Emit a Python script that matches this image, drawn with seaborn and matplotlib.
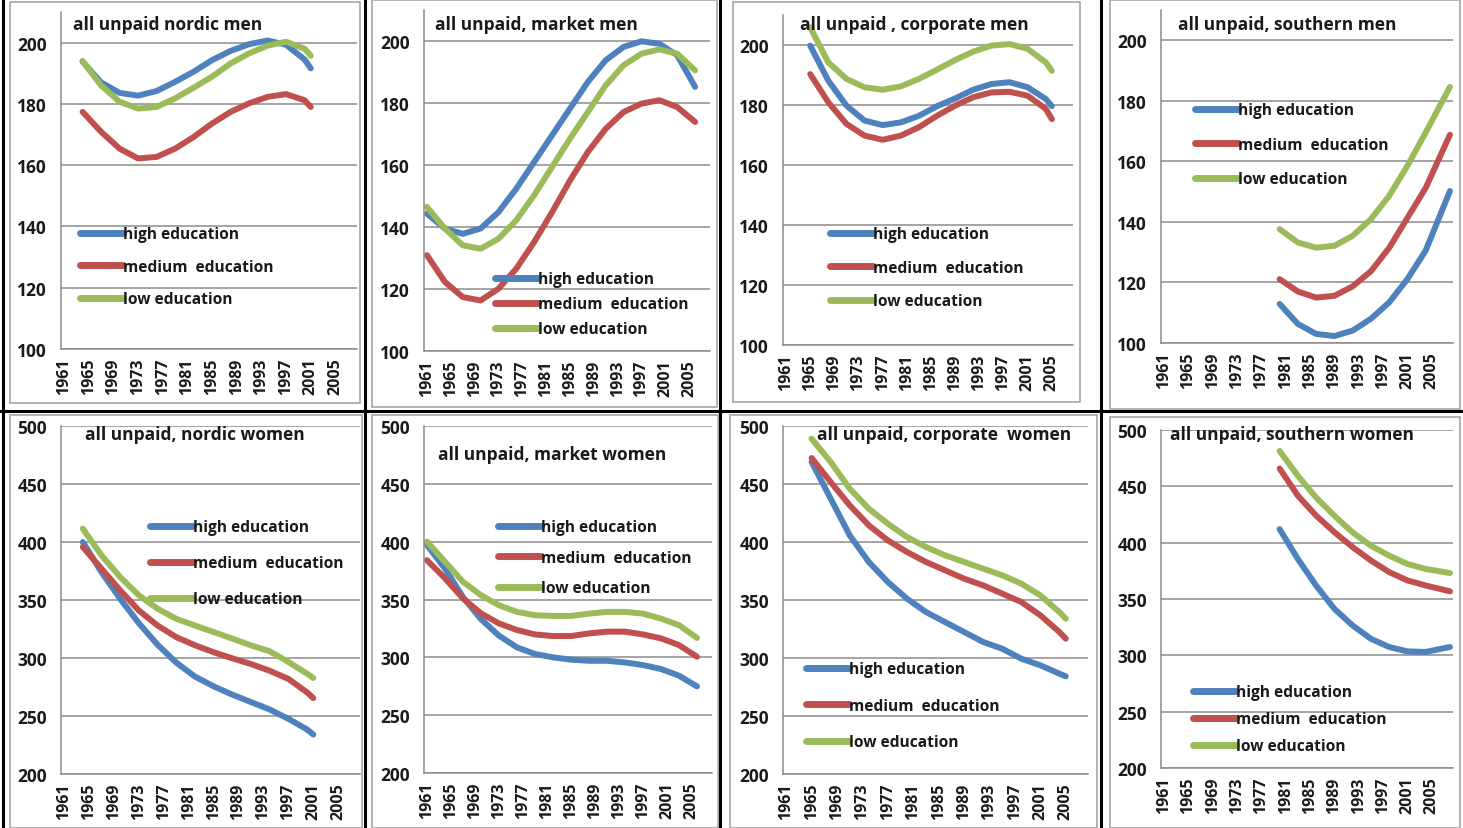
import numpy as np
import pandas as pd
import seaborn as sns
import matplotlib.pyplot as plt
from matplotlib.lines import Line2D
from matplotlib.patches import Rectangle

# ---- data ----
yrs_nordic_men = [1964, 1967, 1970, 1973, 1976, 1979, 1982, 1985, 1988, 1991, 1994, 1997, 2000, 2001]
nordic_men_high = [193.8, 187.0, 183.6, 182.7, 184.2, 187.2, 190.5, 194.3, 197.3, 199.5, 200.7, 199.3, 194.5, 191.6]
nordic_men_med = [177.4, 170.9, 165.4, 162.2, 162.7, 165.4, 169.2, 173.6, 177.4, 180.2, 182.3, 183.2, 181.2, 179.0]
nordic_men_low = [194.0, 186.0, 180.7, 178.5, 179.0, 181.8, 185.3, 188.9, 193.2, 196.5, 199.0, 200.3, 198.0, 195.7]

yrs_market_men = [1961, 1964, 1967, 1970, 1973, 1976, 1979, 1982, 1985, 1988, 1991, 1994, 1997, 2000, 2003, 2006]
market_men_high = [144.3, 139.5, 137.8, 139.5, 144.8, 152.4, 161.0, 169.6, 178.2, 186.8, 193.8, 198.1, 199.9, 199.1, 195.4, 185.2]
market_men_med = [130.9, 122.3, 117.4, 116.3, 120.1, 126.6, 135.2, 144.8, 155.0, 164.2, 171.7, 177.1, 179.8, 180.9, 178.7, 173.9]
market_men_low = [146.5, 139.5, 134.1, 133.0, 136.2, 142.2, 150.3, 159.4, 168.5, 177.1, 185.7, 192.2, 195.9, 197.3, 195.9, 190.5]

yrs_corp_men = [1965, 1968, 1971, 1974, 1977, 1980, 1983, 1986, 1989, 1992, 1995, 1998, 2001, 2004, 2005]
corp_men_high = [199.8, 188.1, 179.8, 174.8, 173.3, 174.2, 176.4, 179.6, 182.2, 185.1, 187.0, 187.6, 185.9, 182.0, 179.6]
corp_men_med = [190.3, 180.9, 173.7, 169.8, 168.4, 169.8, 172.6, 176.4, 179.8, 182.6, 184.2, 184.4, 183.1, 178.7, 175.3]
corp_men_low = [205.9, 194.2, 188.7, 185.9, 185.1, 186.2, 188.7, 191.8, 195.0, 197.8, 199.8, 200.3, 198.7, 194.2, 191.4]

yrs_south_men = [1980, 1983, 1986, 1989, 1992, 1995, 1998, 2001, 2004, 2008]
south_men_high = [112.9, 106.3, 103.0, 102.3, 104.1, 108.0, 113.4, 121.1, 130.5, 150.2]
south_men_med = [121.1, 117.0, 115.0, 115.6, 118.7, 123.7, 131.4, 141.3, 151.2, 168.8]
south_men_low = [137.6, 133.2, 131.5, 132.1, 135.4, 140.9, 148.6, 158.5, 169.5, 184.6]

yrs_nordic_women = [1964, 1967, 1970, 1973, 1976, 1979, 1982, 1985, 1988, 1991, 1994, 1997, 2000, 2001]
nordic_women_high = [400.0, 374.0, 351.0, 330.0, 311.5, 296.0, 284.0, 275.6, 268.4, 262.0, 255.6, 247.6, 238.4, 234.0]
nordic_women_med = [395.7, 377.0, 358.3, 341.0, 328.0, 318.0, 311.0, 305.0, 299.7, 294.8, 289.0, 282.0, 270.4, 265.4]
nordic_women_low = [411.5, 388.5, 369.8, 354.0, 342.5, 333.8, 328.0, 322.4, 316.7, 310.9, 305.8, 296.6, 286.5, 282.8]

yrs_market_women = [1961, 1964, 1967, 1970, 1973, 1976, 1979, 1982, 1985, 1988, 1991, 1994, 1997, 2000, 2003, 2006]
market_women_high = [397.0, 376.7, 352.0, 333.0, 318.7, 308.6, 302.9, 300.0, 298.0, 297.0, 297.0, 295.6, 293.3, 289.9, 284.1, 274.9]
market_women_med = [384.0, 368.3, 350.9, 338.0, 329.3, 323.6, 319.8, 318.4, 318.4, 320.7, 322.2, 322.2, 319.8, 316.4, 310.6, 300.5]
market_women_low = [400.0, 382.6, 365.3, 353.7, 345.0, 339.3, 336.4, 335.8, 335.8, 337.8, 339.3, 339.3, 337.8, 333.5, 327.8, 316.8]

yrs_corp_women = [1965, 1968, 1971, 1974, 1977, 1980, 1983, 1986, 1989, 1992, 1995, 1998, 2001, 2004, 2005]
corp_women_high = [469.0, 437.4, 405.7, 382.8, 365.5, 351.2, 339.6, 331.0, 322.4, 313.8, 308.0, 299.4, 293.7, 286.5, 284.2]
corp_women_med = [472.4, 451.7, 431.6, 414.4, 401.4, 391.4, 382.8, 375.6, 368.4, 362.6, 355.5, 348.3, 336.8, 322.4, 316.7]
corp_women_low = [489.0, 469.0, 446.0, 428.7, 415.8, 404.3, 395.7, 388.5, 382.8, 377.0, 371.3, 364.1, 354.0, 339.6, 333.9]

yrs_south_women = [1980, 1983, 1986, 1989, 1992, 1995, 1998, 2001, 2004, 2008]
south_women_high = [412.0, 385.5, 361.9, 341.3, 326.5, 314.7, 307.4, 303.5, 303.0, 307.4]
south_women_med = [465.8, 441.7, 424.0, 409.3, 396.0, 384.2, 373.9, 366.5, 362.0, 356.8]
south_women_low = [481.4, 459.3, 440.1, 423.9, 409.1, 397.3, 388.5, 381.1, 376.7, 373.0]

edu_labels = ["high education", "medium  education", "low education"]
edu_colors = ["#4F81BD", "#C0504D", "#9BBB59"]
year_labels = list(range(1961, 2006, 4))

titles = ["all unpaid nordic men", "all unpaid, market men", "all unpaid , corporate men",
          "all unpaid, southern men", "all unpaid, nordic women", "all unpaid, market women",
          "all unpaid, corporate  women", "all unpaid, southern women"]

series = [
    (yrs_nordic_men, nordic_men_high, nordic_men_med, nordic_men_low),
    (yrs_market_men, market_men_high, market_men_med, market_men_low),
    (yrs_corp_men, corp_men_high, corp_men_med, corp_men_low),
    (yrs_south_men, south_men_high, south_men_med, south_men_low),
    (yrs_nordic_women, nordic_women_high, nordic_women_med, nordic_women_low),
    (yrs_market_women, market_women_high, market_women_med, market_women_low),
    (yrs_corp_women, corp_women_high, corp_women_med, corp_women_low),
    (yrs_south_women, south_women_high, south_women_med, south_women_low),
]

# ---- layout (pixels) ----
W, H = 1463, 829
# plot area: left, top, right, bottom
boxes = [(61, 13, 357, 350), (424, 11, 710, 352), (783, 16, 1073, 346), (1161, 11, 1453, 344),
         (61, 427, 360, 775), (424, 427, 712, 774), (783, 427, 1088, 775), (1161, 431, 1453, 769)]
title_pos = [(73, 25), (435, 25), (800, 25), (1178, 25), (85, 435), (438, 455), (817, 435), (1170, 435)]
# legend: handle left x, first row centre y, row spacing
legend_pos = [(80, 234, 32), (495, 279, 24.5), (830, 234, 33), (1195, 110, 34),
              (150, 527, 35.5), (498, 527, 30), (806, 669, 36), (1193, 692, 26.5)]
frames = [(10, 3, 360, 404), (372, 1, 717, 408), (733, 3, 1080, 403), (1110, 1, 1460, 410),
          (10, 416, 362, 829), (372, 416, 718, 829), (730, 416, 1097, 829), (1110, 418, 1460, 829)]

sns.set_theme(style="white")
plt.rcParams['font.family'] = ['Open Sans', 'DejaVu Sans']

fig = plt.figure(figsize=(W / 100, H / 100), dpi=100)
fig.patch.set_facecolor("white")

grey = "#8c8c8c"
for (x0, y0, x1, y1) in frames:
    fig.add_artist(Rectangle((x0 / W, 1 - y1 / H), (x1 - x0) / W, (y1 - y0) / H,
                             transform=fig.transFigure, fill=False, ec="#a6a6a6", lw=1.2))
# black separators between the pasted charts
for x in [3, 365, 720, 1101]:
    fig.add_artist(Line2D([x / W, x / W], [0, 1], color="black", lw=2.2, transform=fig.transFigure))
fig.add_artist(Line2D([0, 1], [1 - 412 / H, 1 - 412 / H], color="black", lw=2.2, transform=fig.transFigure))

fs_pt = 11.2
txt_col = "#1a1a1a"
for i in range(8):
    l, t, r, b = boxes[i]
    ax = fig.add_axes([l / W, 1 - b / H, (r - l) / W, (b - t) / H])
    yrs, hi, me, lo = series[i]
    df = pd.DataFrame({
        "year": list(yrs) * 3,
        "value": list(hi) + list(me) + list(lo),
        "education": [edu_labels[0]] * len(yrs) + [edu_labels[1]] * len(yrs) + [edu_labels[2]] * len(yrs),
    })
    sns.lineplot(data=df, x="year", y="value", hue="education", hue_order=edu_labels,
                 palette=edu_colors, linewidth=4.3, errorbar=None, ax=ax)
    for ln in ax.lines:
        ln.set_solid_capstyle("round")
        ln.set_solid_joinstyle("round")

    if i < 4:
        ax.set_ylim(100, 210)
        ax.set_yticks(range(100, 201, 20))
    else:
        ax.set_ylim(200, 500)
        ax.set_yticks(range(200, 501, 50))
    ax.set_xlim(1960.5, 2008.5)
    ax.set_xticks(year_labels)
    ax.set_xticks(np.arange(1960.5, 2009, 1), minor=True)
    ax.tick_params(axis="x", which="major", length=0, pad=6, labelrotation=90,
                   labelsize=11.5, labelcolor=txt_col)
    ax.tick_params(axis="x", which="minor", length=5, width=1, color=grey, direction="out")
    ax.tick_params(axis="y", which="major", length=5, width=1, color=grey, direction="out",
                   labelsize=12.5, labelcolor=txt_col, pad=5)
    for lab in ax.get_xticklabels() + ax.get_yticklabels():
        lab.set_fontweight("bold")
    ax.set_xlabel("")
    ax.set_ylabel("")
    ax.grid(axis="y", color=grey, lw=1.1)
    ax.set_axisbelow(True)
    for s in ["top", "right"]:
        ax.spines[s].set_visible(False)
    for s in ["left", "bottom"]:
        ax.spines[s].set_color(grey)
        ax.spines[s].set_linewidth(1.1)
    ax.patch.set_alpha(0)

    # legend
    lx, ly, sp = legend_pos[i]
    fs_px = fs_pt * 100 / 72
    lsp = (sp - fs_px) / fs_px
    handles = [Line2D([], [], color=c, lw=5) for c in edu_colors]
    leg = ax.legend(handles, edu_labels, loc="upper left",
                    bbox_to_anchor=(lx / W, 1 - (ly - fs_px * 0.62 + 3) / H),
                    bbox_transform=fig.transFigure, frameon=False, borderpad=0,
                    borderaxespad=0, handlelength=2.75, handletextpad=0.0,
                    labelspacing=lsp, prop={"size": fs_pt, "weight": "bold"})
    for txt in leg.get_texts():
        txt.set_color(txt_col)

    tx, ty = title_pos[i]
    fig.text(tx / W, 1 - ty / H, titles[i], fontsize=12.5, fontweight="bold",
             color=txt_col, ha="left", va="center")

fig.savefig("out.png", dpi=100)
